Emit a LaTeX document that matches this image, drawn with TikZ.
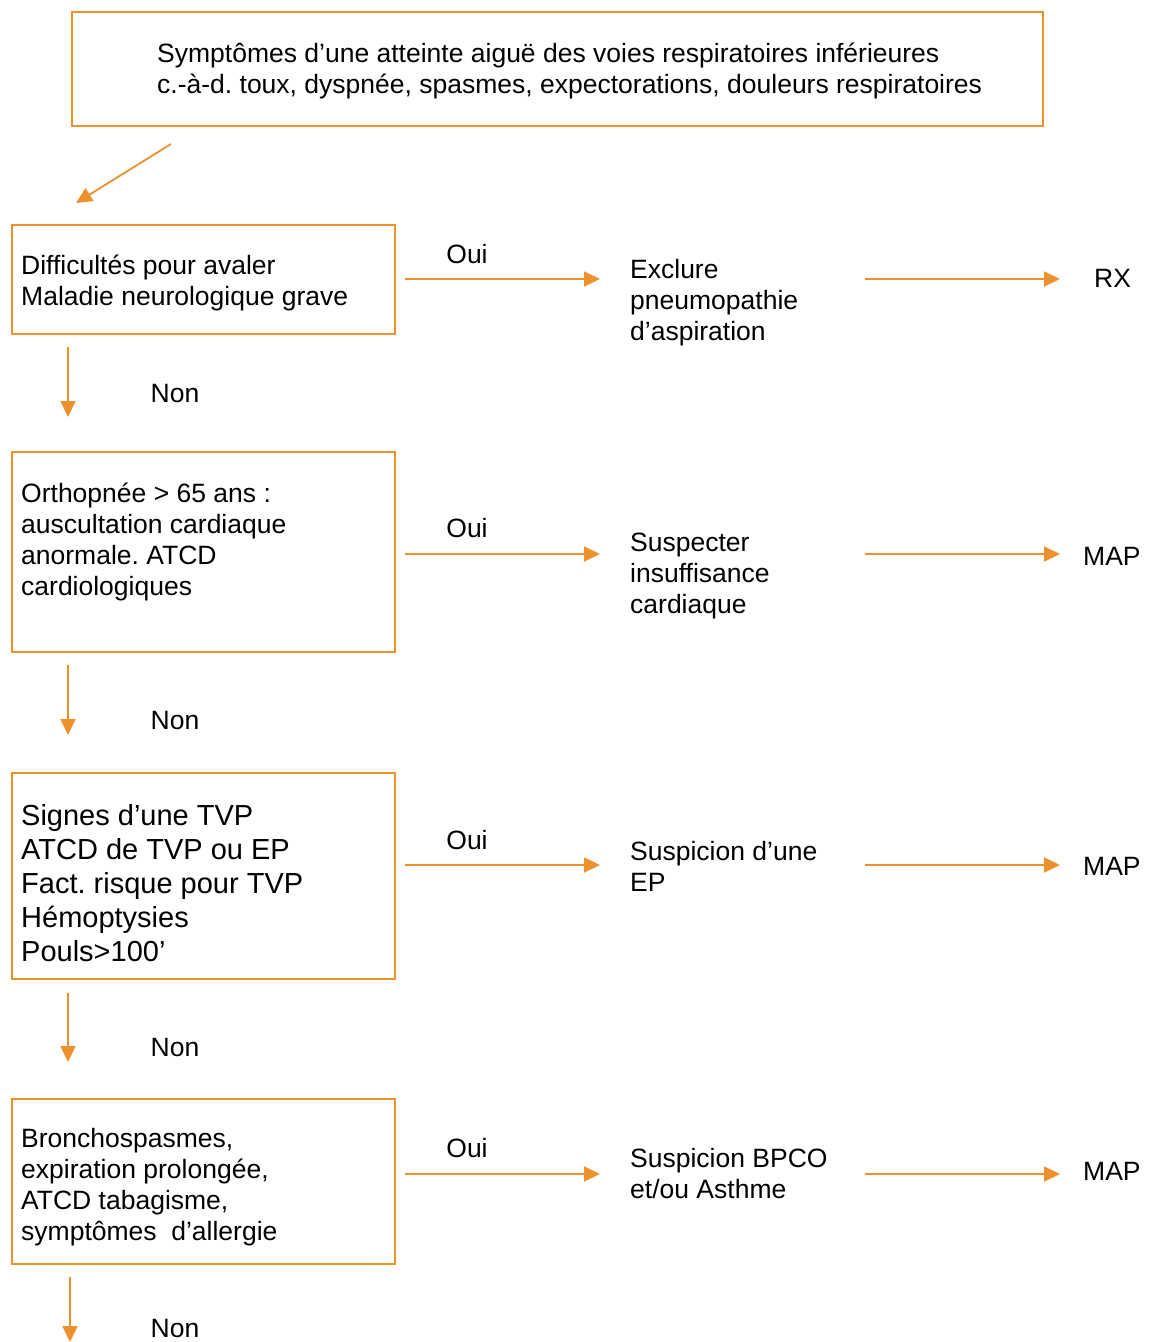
\documentclass[tikz,border=0pt]{standalone}
\usepackage{fontspec}
\setmainfont{Liberation Sans}
\usetikzlibrary{arrows.meta}
\definecolor{orng}{RGB}{237,145,44}
\frenchspacing
\tikzset{
  box/.style={draw=orng, line width=1.8pt},
  conn/.style={draw=orng, line width=1.8pt, -{Triangle[length=16pt,width=15pt]}},
  txt/.style={anchor=west, align=left, inner sep=0pt, font=\fontsize{26.5}{31}\selectfont},
  bigtxt/.style={anchor=west, align=left, inner sep=0pt, font=\fontsize{29}{34}\selectfont},
  lbl/.style={anchor=center, inner sep=0pt, font=\fontsize{26.5}{31}\selectfont}
}
\begin{document}
\begin{tikzpicture}[x=1pt,y=-1pt]
\useasboundingbox (0,0) rectangle (1152,1342);
% top box
\draw[box] (72,12) rectangle (1043,126);
\node[txt] (top) at (157,71) {Symptômes d’une atteinte aiguë des voies respiratoires inférieures\\c.-à-d. toux, dyspnée, spasmes, expectorations, douleurs respiratoires};
\coordinate (d0a) at (171,144);
\coordinate (d0b) at (76,203);
\draw[conn] (d0a) -- (d0b);

% row 1
\draw[box] (12,225) rectangle (395,334);
\node[txt] (q1) at (21,283) {Difficultés pour avaler\\Maladie neurologique grave};
\node[lbl] (o1) at (467,254) {Oui};
\coordinate (a1s) at (405,279); \coordinate (a1e) at (600,279);
\draw[conn] (a1s) -- (a1e);
\node[txt] (r1) at (630,303) {Exclure\\pneumopathie\\d’aspiration};
\coordinate (b1s) at (865,279); \coordinate (b1e) at (1060,279);
\draw[conn] (b1s) -- (b1e);
\node[txt] (f1) at (1094,278) {RX};
\coordinate (n1s) at (68,347); \coordinate (n1e) at (68,417);
\draw[conn] (n1s) -- (n1e);
\node[lbl] (no1) at (175,394) {Non};

% row 2
\draw[box] (12,452) rectangle (395,652);
\node[txt] (q2) at (21,542) {Orthopnée > 65 ans :\\auscultation cardiaque\\anormale. ATCD\\cardiologiques};
\node[lbl] (o2) at (467,528) {Oui};
\coordinate (a2s) at (405,554); \coordinate (a2e) at (600,554);
\draw[conn] (a2s) -- (a2e);
\node[txt] (r2) at (630,576) {Suspecter\\insuffisance\\cardiaque};
\coordinate (b2s) at (865,554); \coordinate (b2e) at (1060,554);
\draw[conn] (b2s) -- (b2e);
\node[txt] (f2) at (1083,556) {MAP};
\coordinate (n2s) at (68,665); \coordinate (n2e) at (68,735);
\draw[conn] (n2s) -- (n2e);
\node[lbl] (no2) at (175,721) {Non};

% row 3
\draw[box] (12,773) rectangle (395,979);
\node[bigtxt] (q3) at (21,883) {Signes d’une TVP\\ATCD de TVP ou EP\\Fact. risque pour TVP\\Hémoptysies\\Pouls>100’};
\node[lbl] (o3) at (467,840) {Oui};
\coordinate (a3s) at (405,865); \coordinate (a3e) at (600,865);
\draw[conn] (a3s) -- (a3e);
\node[txt] (r3) at (630,866) {Suspicion d’une\\EP};
\coordinate (b3s) at (865,865); \coordinate (b3e) at (1060,865);
\draw[conn] (b3s) -- (b3e);
\node[txt] (f3) at (1083,866) {MAP};
\coordinate (n3s) at (68,993); \coordinate (n3e) at (68,1062);
\draw[conn] (n3s) -- (n3e);
\node[lbl] (no3) at (175,1047) {Non};

% row 4
\draw[box] (12,1099) rectangle (395,1264);
\node[txt] (q4) at (21,1187) {Bronchospasmes,\\expiration prolongée,\\ATCD tabagisme,\\symptômes\ \ d’allergie};
\node[lbl] (o4) at (467,1148) {Oui};
\coordinate (a4s) at (405,1174); \coordinate (a4e) at (600,1174);
\draw[conn] (a4s) -- (a4e);
\node[txt] (r4) at (630,1174) {Suspicion BPCO\\et/ou Asthme};
\coordinate (b4s) at (865,1174); \coordinate (b4e) at (1060,1174);
\draw[conn] (b4s) -- (b4e);
\node[txt] (f4) at (1083,1171) {MAP};
\coordinate (n4s) at (70,1277); \coordinate (n4e) at (70,1342);
\draw[conn] (n4s) -- (n4e);
\node[lbl] (no4) at (175,1328) {Non};
\end{tikzpicture}
\end{document}
